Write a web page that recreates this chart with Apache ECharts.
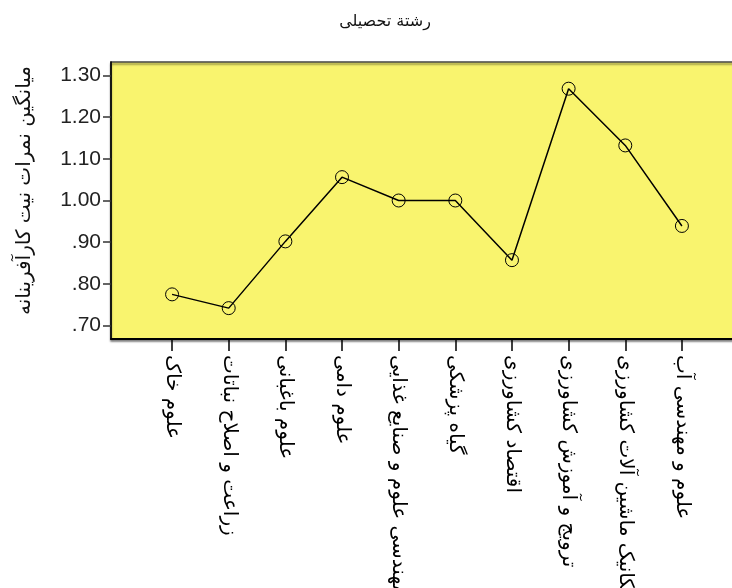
<!DOCTYPE html>
<html>
<head>
<meta charset="utf-8">
<script src="https://cdn.jsdelivr.net/npm/echarts@6/dist/echarts.min.js"></script>
<style>html,body{margin:0;padding:0;background:#fff}#c{width:732px;height:588px}</style>
</head>
<body>
<div id="c"></div>
<script>
const chartTitle = 'رشتة تحصیلی';
const yAxisTitle = 'میانگین نمرات نیت کارآفرینانه';
const categories = [
  'علوم خاک',
  'زراعت و اصلاح نباتات',
  'علوم باغبانی',
  'علوم دامی',
  'مهندسی علوم و صنایع غذایی',
  'گیاه پزشکی',
  'اقتصاد کشاورزی',
  'ترویج و آموزش کشاورزی',
  'مکانیک ماشین آلات کشاورزی',
  'علوم و مهندسی آب'
];
const meanScores = [0.775, 0.742, 0.902, 1.056, 1.000, 1.000, 0.857, 1.268, 1.132, 0.939];
const yTicks = [0.70, 0.80, 0.90, 1.00, 1.10, 1.20, 1.30];
const yTickLabels = ['.70', '.80', '.90', '1.00', '1.10', '1.20', '1.30'];

const catIndex = categories.map((c, i) => i);
const seriesData = meanScores.map((v, i) => [catIndex[i], v]);

const chart = echarts.init(document.getElementById('c'), null, {renderer: 'canvas'});
chart.setOption({
  animation: false,
  backgroundColor: '#ffffff',
  title: {
    text: chartTitle,
    left: 380,
    top: 9,
    textAlign: 'center',
    textStyle: {fontFamily: 'DejaVu Sans', fontSize: 16, fontWeight: 'normal', color: '#111'}
  },
  grid: {
    left: 111, top: 62, right: -6, bottom: 249,
    containLabel: false,
    outerBoundsMode: 'none',
    show: true,
    backgroundColor: '#f9f46e',
    borderColor: '#444',
    borderWidth: 1.5,
    shadowColor: 'rgba(0,0,0,0.45)',
    shadowBlur: 2,
    shadowOffsetX: 0,
    shadowOffsetY: 2
  },
  xAxis: {
    type: 'value',
    min: -1.078,
    max: 9.99,
    splitLine: {show: false},
    axisLine: {show: true, onZero: false, lineStyle: {color: '#000', width: 2}},
    axisTick: {show: true, length: 12, customValues: catIndex, lineStyle: {color: '#000', width: 1.5}},
    axisLabel: {
      customValues: catIndex,
      rotate: -90,
      margin: 16,
      formatter: v => categories[Math.round(v)] || '',
      fontFamily: 'DejaVu Sans',
      fontSize: 20,
      color: '#000'
    }
  },
  yAxis: {
    type: 'value',
    min: 0.668,
    max: 1.332,
    name: yAxisTitle,
    nameLocation: 'middle',
    nameRotate: 90,
    nameGap: 76,
    nameTextStyle: {fontFamily: 'DejaVu Sans', fontSize: 20, color: '#111', padding: [0, 0, 0, 20]},
    splitLine: {show: false},
    axisLine: {show: true, onZero: false, lineStyle: {color: '#000', width: 1.5}},
    axisTick: {show: true, length: 8, customValues: yTicks, lineStyle: {color: '#333', width: 1.5}},
    axisLabel: {
      customValues: yTicks,
      margin: 10,
      formatter: v => {
        const i = yTicks.findIndex(t => Math.abs(t - v) < 1e-6);
        return i >= 0 ? yTickLabels[i] : '';
      },
      fontFamily: 'Liberation Sans',
      fontSize: 21,
      color: '#222'
    }
  },
  series: [{
    type: 'line',
    data: seriesData,
    symbol: 'circle',
    symbolSize: 13,
    lineStyle: {color: '#000', width: 1.5},
    itemStyle: {color: 'rgba(0,0,0,0)', borderColor: '#000', borderWidth: 1},
    z: 3
  }]
});
</script>
</body>
</html>
